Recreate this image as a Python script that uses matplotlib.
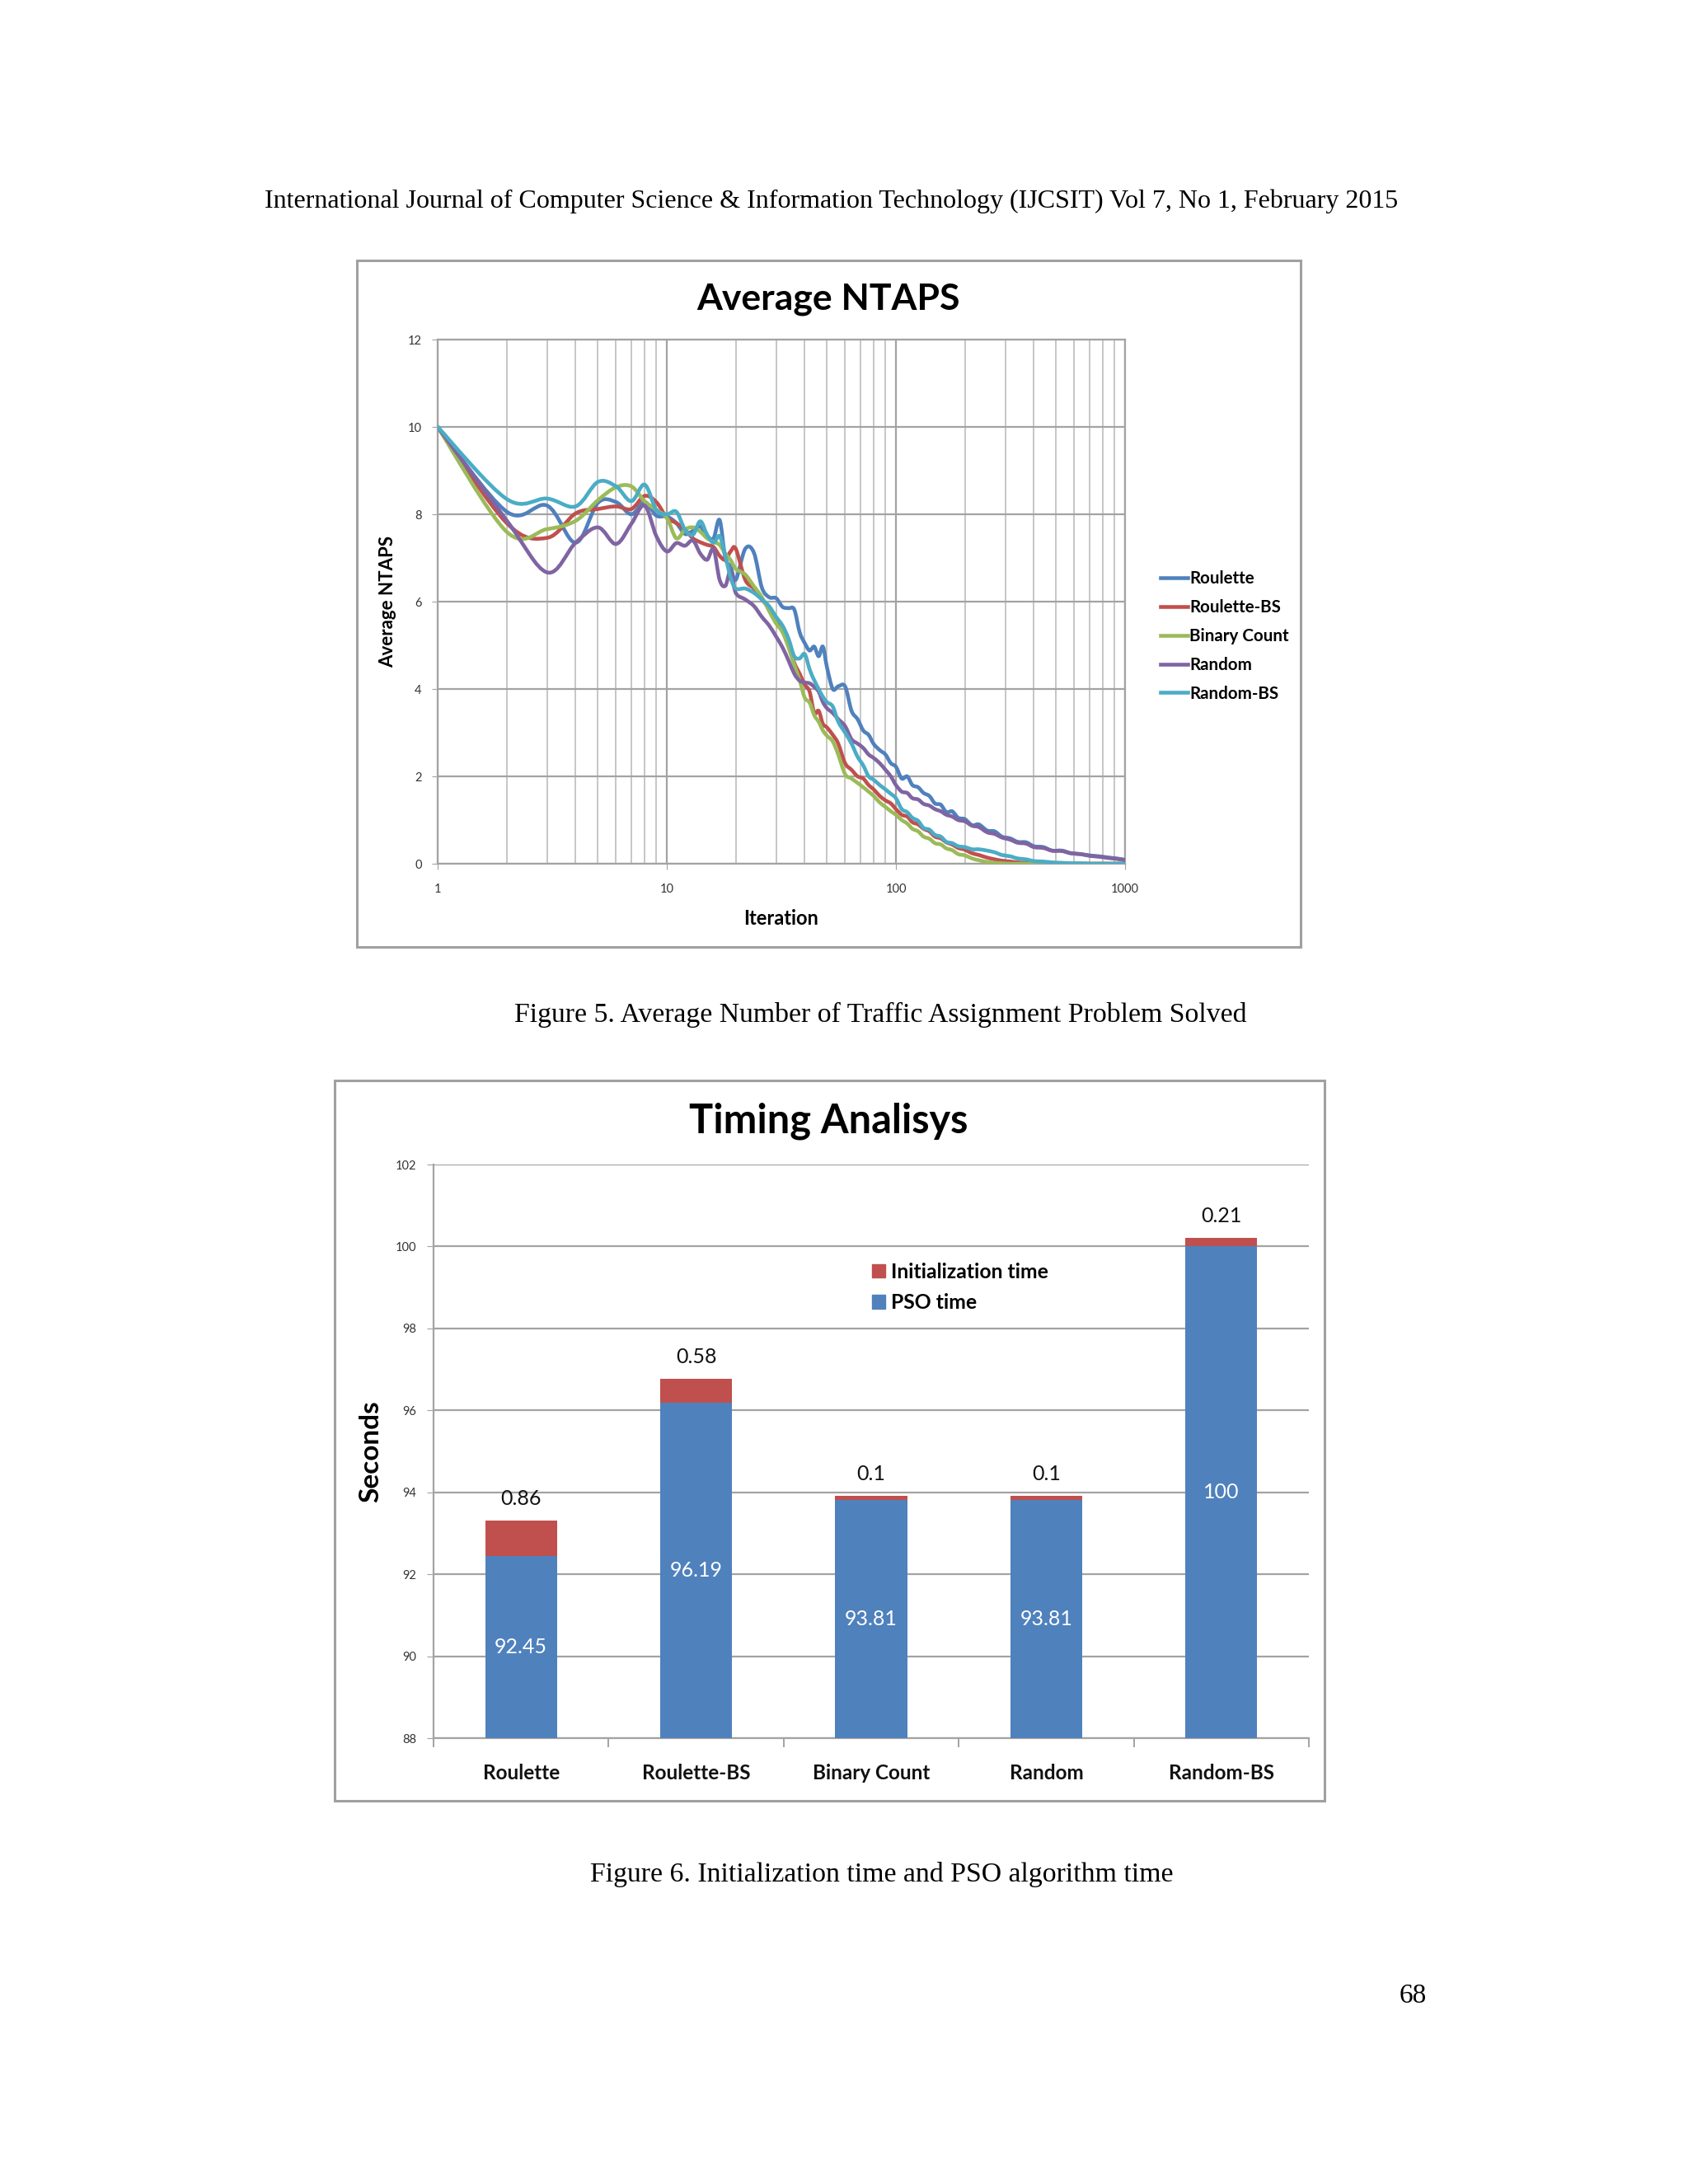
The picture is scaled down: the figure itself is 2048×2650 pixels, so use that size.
import numpy as np
import matplotlib
matplotlib.use('Agg')
import matplotlib.pyplot as plt
from matplotlib.patches import Rectangle, Patch, PathPatch
from matplotlib.path import Path
from matplotlib.lines import Line2D
from matplotlib.ticker import NullFormatter, FixedLocator

# ---------------- data: Figure 5 (Average NTAPS) ----------------
ITERATIONS = [1, 2, 3, 4, 5, 6, 7, 8, 9, 10,
              11, 12, 13, 14, 15, 16, 17, 18, 19, 20,
              22, 24, 26, 28, 30, 32, 34, 36, 38, 40,
              42, 44, 46, 48, 50, 53, 56, 60, 64, 68,
              72, 76, 80, 85, 90, 95, 100, 106, 112, 118,
              125, 132, 140, 148, 157, 166, 176, 187, 200, 215,
              230, 250, 270, 290, 315, 340, 370, 400, 440, 480,
              530, 580, 640, 700, 770, 850, 920, 1000]

ROULETTE = [10, 8.06, 8.2, 7.35, 8.26, 8.28, 8.0, 8.28, 7.97, 7.95,
            7.8, 7.55, 7.62, 7.72, 7.5, 7.45, 7.87, 7.0, 6.8, 6.5,
            7.21, 7.12, 6.32, 6.1, 6.08, 5.88, 5.85, 5.82, 5.3, 5.05,
            4.88, 4.97, 4.75, 4.97, 4.5, 4.0, 4.06, 4.06, 3.5, 3.31,
            3.05, 2.95, 2.74, 2.6, 2.5, 2.3, 2.22, 1.95, 2.0, 1.8,
            1.75, 1.62, 1.55, 1.38, 1.35, 1.18, 1.2, 1.05, 1.02, 0.88,
            0.9, 0.76, 0.74, 0.62, 0.58, 0.5, 0.49, 0.4, 0.38, 0.3,
            0.3, 0.24, 0.22, 0.19, 0.17, 0.14, 0.12, 0.09]

ROULETTE_BS = [10, 7.8, 7.46, 8.02, 8.12, 8.18, 8.12, 8.42, 8.28, 7.92,
               7.8, 7.65, 7.45, 7.36, 7.3, 7.25, 7.05, 6.96, 7.15, 7.21,
               6.5, 6.3, 6.05, 5.85, 5.6, 5.4, 5.05, 4.6, 4.35, 4.1,
               3.94, 3.45, 3.5, 3.2, 3.12, 2.95, 2.75, 2.3, 2.15, 2.0,
               1.95, 1.8, 1.7, 1.55, 1.45, 1.38, 1.25, 1.12, 1.08, 0.95,
               0.9, 0.8, 0.74, 0.62, 0.58, 0.49, 0.44, 0.36, 0.32, 0.24,
               0.2, 0.14, 0.1, 0.07, 0.05, 0.03, 0.02, 0.01, 0.0, 0.0,
               0.0, 0.0, 0.0, 0.0, 0.0, 0.0, 0.0, 0.0]

BINARY_COUNT = [10, 7.6, 7.66, 7.85, 8.32, 8.62, 8.64, 8.3, 8.1, 7.92,
                7.45, 7.65, 7.7, 7.6, 7.45, 7.37, 7.3, 7.1, 6.95, 6.75,
                6.62, 6.35, 6.1, 5.78, 5.5, 5.3, 4.95, 4.55, 4.2, 3.8,
                3.69, 3.4, 3.25, 3.05, 2.93, 2.8, 2.5, 2.05, 1.95, 1.85,
                1.75, 1.65, 1.55, 1.4, 1.3, 1.2, 1.12, 1.0, 0.92, 0.8,
                0.74, 0.62, 0.57, 0.47, 0.44, 0.35, 0.31, 0.22, 0.19, 0.12,
                0.08, 0.04, 0.02, 0.01, 0.0, 0.0, 0.0, 0.0, 0.0, 0.0,
                0.0, 0.0, 0.0, 0.0, 0.0, 0.0, 0.0, 0.0]

RANDOM = [10, 7.86, 6.67, 7.35, 7.7, 7.32, 7.78, 8.2, 7.5, 7.15,
          7.34, 7.28, 7.4, 7.1, 6.96, 7.2, 6.5, 6.36, 6.7, 6.2,
          6.05, 5.9, 5.65, 5.45, 5.2, 4.95, 4.65, 4.35, 4.19, 4.15,
          4.13, 4.05, 3.94, 3.7, 3.56, 3.45, 3.31, 3.15, 2.85, 2.75,
          2.65, 2.5, 2.42, 2.3, 2.15, 2.0, 1.8, 1.65, 1.62, 1.5,
          1.47, 1.37, 1.33, 1.25, 1.2, 1.12, 1.08, 1.0, 0.97, 0.87,
          0.84, 0.72, 0.68, 0.6, 0.55, 0.48, 0.46, 0.38, 0.36, 0.3,
          0.29, 0.24, 0.22, 0.18, 0.16, 0.13, 0.11, 0.08]

RANDOM_BS = [10, 8.35, 8.36, 8.18, 8.74, 8.64, 8.3, 8.68, 8.1, 8.0,
             8.06, 7.65, 7.53, 7.84, 7.53, 7.35, 7.5, 7.05, 6.55, 6.3,
             6.3, 6.2, 6.05, 5.89, 5.65, 5.45, 5.15, 4.75, 4.7, 4.8,
             4.45, 4.2, 4.0, 3.82, 3.7, 3.6, 3.25, 3.0, 2.75, 2.45,
             2.25, 2.0, 1.92, 1.8, 1.7, 1.6, 1.5, 1.25, 1.18, 1.05,
             0.98, 0.82, 0.78, 0.66, 0.62, 0.5, 0.47, 0.4, 0.38, 0.33,
             0.33, 0.3, 0.26, 0.2, 0.17, 0.12, 0.1, 0.06, 0.05, 0.03,
             0.02, 0.01, 0.01, 0.0, 0.0, 0.0, 0.0, 0.0]

SERIES_NAMES = ['Roulette', 'Roulette-BS', 'Binary Count', 'Random', 'Random-BS']
SERIES_VALUES = [ROULETTE, ROULETTE_BS, BINARY_COUNT, RANDOM, RANDOM_BS]
SERIES_COLORS = ['#4F81BD', '#C0504D', '#9BBB59', '#8064A2', '#4BACC6']

X_TICKS = [1, 10, 100, 1000]
X_TICK_LABELS = ['1', '10', '100', '1000']
Y_TICKS_1 = [0, 2, 4, 6, 8, 10, 12]

# ---------------- data: Figure 6 (Timing Analisys) ----------------
CATEGORIES = ['Roulette', 'Roulette-BS', 'Binary Count', 'Random', 'Random-BS']
PSO_TIME = [92.45, 96.19, 93.81, 93.81, 100]
INIT_TIME = [0.86, 0.58, 0.1, 0.1, 0.21]
PSO_LABELS = ['92.45', '96.19', '93.81', '93.81', '100']
INIT_LABELS = ['0.86', '0.58', '0.1', '0.1', '0.21']
Y_TICKS_2 = [88, 90, 92, 94, 96, 98, 100, 102]

# ---------------- style ----------------
SANS = ['Lato', 'DejaVu Sans']
SERIF = ['Liberation Serif', 'DejaVu Serif']
GRID = '#a3a3a3'
MINOR_GRID = '#c6c6c6'
BOX = '#a0a0a0'
TICKCOL = '#333333'
PSO_COLOR = '#4F81BD'
INIT_COLOR = '#C0504D'
LINE_W = 3.3

plt.rcParams['font.family'] = SANS

W, H = 2048, 2650
fig = plt.figure(figsize=(W / 100, H / 100), dpi=100)
fig.patch.set_facecolor('white')


def fx(px):
    return px / W


def fy(py):
    return 1 - py / H


def smooth_path(xs, ys):
    """Excel-style 'smoothed line': cubic Bezier segments through the data
    points (control points taken in log-x space, the axis' own scale)."""
    u = np.log10(np.asarray(xs, float))
    v = np.asarray(ys, float)
    n = len(u)
    verts = [(xs[0], v[0])]
    codes = [Path.MOVETO]
    for i in range(n - 1):
        i0 = max(i - 1, 0)
        i3 = min(i + 2, n - 1)
        c1u = u[i] + (u[i + 1] - u[i0]) / 6.0
        c1v = v[i] + (v[i + 1] - v[i0]) / 6.0
        c2u = u[i + 1] - (u[i3] - u[i]) / 6.0
        c2v = v[i + 1] - (v[i3] - v[i]) / 6.0
        verts += [(10 ** c1u, c1v), (10 ** c2u, c2v), (xs[i + 1], v[i + 1])]
        codes += [Path.CURVE4] * 3
    return Path(verts, codes)


# page header / captions
fig.text(fx(1009), fy(244), 'International Journal of Computer Science & Information Technology (IJCSIT) Vol 7, No 1, February 2015',
         ha='center', va='center', family=SERIF, size=23)
fig.text(fx(1068), fy(1231), 'Figure 5. Average Number of Traffic Assignment Problem Solved',
         ha='center', va='center', family=SERIF, size=24.3)
fig.text(fx(1070), fy(2275), 'Figure 6. Initialization time and PSO algorithm time',
         ha='center', va='center', family=SERIF, size=24.3)
fig.text(fx(1714), fy(2422), '68', ha='center', va='center', family=SERIF, size=24)

# ---------------- chart 1 ----------------
fig.add_artist(Rectangle((fx(433), fy(1149)), fx(1578) - fx(433), fy(316) - fy(1149),
                         transform=fig.transFigure, fill=False, ec=BOX, lw=2.2))
ax1 = fig.add_axes([fx(531), fy(1048), fx(1365) - fx(531), fy(412) - fy(1048)])
ax1.set_xscale('log')
ax1.set_xlim(1, 1000)
ax1.set_ylim(0, 12)
handles = []
for name, vals, col in zip(SERIES_NAMES, SERIES_VALUES, SERIES_COLORS):
    patch = PathPatch(smooth_path(ITERATIONS, vals), fill=False, edgecolor=col, lw=LINE_W,
                      joinstyle='round', capstyle='round', zorder=3)
    ax1.add_patch(patch)
    handles.append(Line2D([], [], color=col, lw=LINE_W))
ax1.set_xticks(X_TICKS)
ax1.set_xticklabels(X_TICK_LABELS)
ax1.xaxis.set_minor_locator(FixedLocator([m * 10 ** d for d in range(3) for m in range(2, 10)]))
ax1.xaxis.set_minor_formatter(NullFormatter())
ax1.set_yticks(Y_TICKS_1)
ax1.grid(which='major', color=GRID, lw=1.6)
ax1.grid(which='minor', axis='x', color=MINOR_GRID, lw=1.4)
ax1.set_axisbelow(True)
for s in ax1.spines.values():
    s.set_color(GRID)
    s.set_linewidth(1.6)
ax1.tick_params(axis='both', which='major', length=5, color=GRID, labelsize=10.5, labelcolor=TICKCOL)
ax1.tick_params(axis='x', which='major', pad=12)
ax1.tick_params(axis='y', which='major', pad=9)
ax1.tick_params(which='minor', length=0)

fig.text(fx(1005), fy(363), 'Average NTAPS', ha='center', va='center', size=32, weight='bold')
fig.text(fx(948), fy(1114), 'Iteration', ha='center', va='center', size=17, weight='bold')
fig.text(fx(471), fy(730), 'Average NTAPS', ha='center', va='center', size=16, weight='bold', rotation=90)

fig.legend(handles, SERIES_NAMES, loc='center left', bbox_to_anchor=(fx(1408), fy(772)),
           frameon=False, prop=dict(family=SANS, weight='bold', size=14.8),
           handlelength=1.6, handletextpad=0.1, labelspacing=0.72, borderpad=0, borderaxespad=0)

# ---------------- chart 2 ----------------
fig.add_artist(Rectangle((fx(406), fy(2185)), fx(1607) - fx(406), fy(1311) - fy(2185),
                         transform=fig.transFigure, fill=False, ec=BOX, lw=2.2))
ax2 = fig.add_axes([fx(526), fy(2109), fx(1588) - fx(526), fy(1413) - fy(2109)])
xpos = np.arange(len(CATEGORIES))
ax2.bar(xpos, PSO_TIME, width=0.41, color=PSO_COLOR, zorder=3, label='PSO time')
ax2.bar(xpos, INIT_TIME, bottom=PSO_TIME, width=0.41, color=INIT_COLOR, zorder=3, label='Initialization time')
ax2.set_ylim(88, 102)
ax2.set_xlim(-0.5, len(CATEGORIES) - 0.5)
ax2.set_yticks(Y_TICKS_2)
ax2.set_xticks(xpos)
ax2.set_xticklabels(CATEGORIES, fontsize=17.5, fontweight='bold')
ax2.set_xticks(np.arange(-0.5, len(CATEGORIES), 1.0), minor=True)
ax2.yaxis.grid(True, color=GRID, lw=1.6)
ax2.set_axisbelow(True)
for k in ['top', 'right']:
    ax2.spines[k].set_visible(False)
for k in ['left', 'bottom']:
    ax2.spines[k].set_color(GRID)
    ax2.spines[k].set_linewidth(1.6)
ax2.tick_params(axis='x', which='major', length=0, pad=22, labelcolor='#111111')
ax2.tick_params(axis='x', which='minor', length=8, color=GRID, width=1.4)
ax2.tick_params(axis='y', which='major', length=6, color=GRID, labelsize=10.5, labelcolor=TICKCOL, pad=9)

for i in range(len(CATEGORIES)):
    ax2.text(xpos[i], (88 + PSO_TIME[i]) / 2, PSO_LABELS[i], ha='center', va='center',
             color='white', size=18, zorder=4)
    ax2.annotate(INIT_LABELS[i], (xpos[i], PSO_TIME[i] + INIT_TIME[i]), xytext=(0, 19),
                 textcoords='offset points', ha='center', va='center', size=18, color='#111111',
                 annotation_clip=False)

fig.text(fx(1005), fy(1360), 'Timing Analisys', ha='center', va='center', size=35, weight='bold')
fig.text(fx(450), fy(1761), 'Seconds', ha='center', va='center', size=24, weight='bold', rotation=90)

fig.legend([Patch(color=INIT_COLOR), Patch(color=PSO_COLOR)], ['Initialization time', 'PSO time'],
           loc='center left', bbox_to_anchor=(fx(1058), fy(1562)), frameon=False,
           prop=dict(family=SANS, weight='bold', size=17.8), handlelength=0.65, handleheight=0.65,
           handletextpad=0.3, labelspacing=0.6, borderpad=0, borderaxespad=0)

fig.savefig('out.png', dpi=100, facecolor='white')
